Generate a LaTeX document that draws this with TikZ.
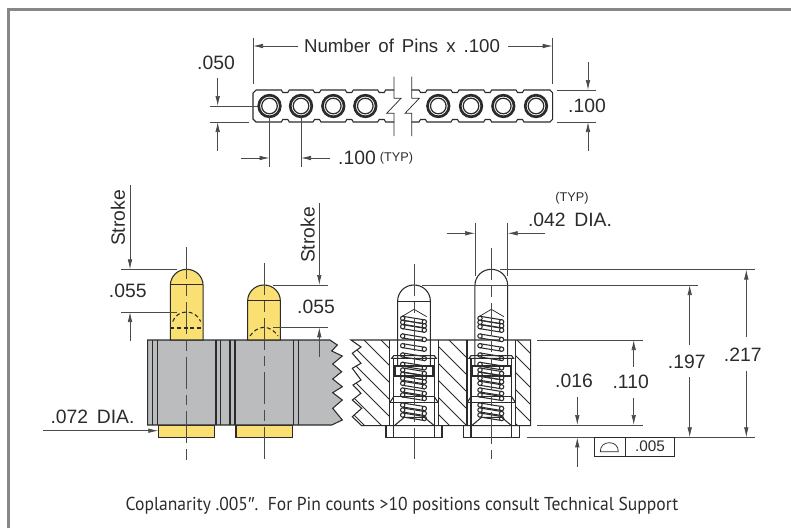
\documentclass[tikz,border=0pt]{standalone}
\usepackage{fontspec}
\setmainfont{Liberation Sans}
\newfontfamily\notefont[FakeStretch=0.94]{PT Sans}
\usepackage{xcolor}
\usepackage{tikz}
\usetikzlibrary{arrows.meta}
\definecolor{framec}{HTML}{878787}
\definecolor{inkc}{HTML}{2B2B2B}
\definecolor{linec}{HTML}{4A4A4A}
\definecolor{bodyc}{HTML}{BBBCBE}
\definecolor{goldc}{HTML}{FADF72}
\tikzset{
  outln/.style={draw=inkc,line width=.8pt},
  thinln/.style={draw=inkc,line width=.55pt},
  dimln/.style={draw=linec,line width=.55pt},
  dimarr/.style={dimln,-{Latex[length=7.5pt,width=3.4pt]}},
  centerln/.style={draw=linec,line width=.55pt,dash pattern=on 24pt off 4.5pt on 8pt off 4.5pt},
  hiddenln/.style={draw=inkc,line width=.8pt,dash pattern=on 3pt off 2pt},
  dimtxt/.style={text=inkc,inner sep=0pt,font=\fontsize{14.5}{15}\selectfont},
  smalltxt/.style={text=inkc,inner sep=0pt,font=\fontsize{9.5}{11}\selectfont}
}
\begin{document}
\begin{tikzpicture}[x=.75pt,y=-.75pt]
\useasboundingbox (0,0) rectangle (791,528);
\draw[framec,line width=2.25pt] (8.5,528) -- (8.5,9.5) -- (791,9.5);

\draw[outln] (394,90) \foreach \n in {381.7,349.3,317,285.3} { -- (\n+4,90) -- (\n+2.5,92.5) -- (\n-2.5,92.5) -- (\n-4,90)}
  -- (256,90) -- (253,93) -- (253,119) -- (256,122)
  \foreach \n in {285.3,317,349.3,381.7} { -- (\n-4,122) -- (\n-2.5,119.5) -- (\n+2.5,119.5) -- (\n+4,122)} -- (394,122);
\draw[outln] (411.7,90) \foreach \n in {423,455,487.7,520} { -- (\n-4,90) -- (\n-2.5,92.5) -- (\n+2.5,92.5) -- (\n+4,90)}
  -- (550,90) -- (552.7,93) -- (552.7,119) -- (550,122)
  \foreach \n in {520,487.7,455,423} { -- (\n+4,122) -- (\n+2.5,119.5) -- (\n-2.5,119.5) -- (\n-4,122)} -- (411.7,122);
\foreach \n in {269.5,301,333.3,365.3,438.3,471,503.3,536} {
  \draw[draw=inkc,line width=2pt] (\n,106) circle (10.8);
  \draw[draw=inkc,line width=.9pt] (\n,106) circle (7.8);
}
\draw[thinln] (394,76.7) -- (394,98.3) -- (401,98.3) -- (386.7,113.3) -- (394,113.3) -- (394,136);
\draw[thinln] (411.7,76.7) -- (411.7,98.3) -- (419.3,98.3) -- (405,113.3) -- (411.7,113.3) -- (411.7,136);

\draw[dimln] (253,38) -- (253,84);
\draw[dimln] (552.7,38) -- (552.7,84);
\draw[dimarr] (298,46) -- (253,46);
\draw[dimarr] (508,46) -- (552.7,46);
\node[dimtxt,font=\fontsize{14}{15}\selectfont] (pinslbl) at (402,46) {\spaceskip=6pt Number of Pins x .100};
\node[dimtxt] (pitchlbl) at (216,63) {.050};
\draw[dimln] (210,106) -- (258,106);
\draw[dimln] (210,122) -- (249,122);
\draw[dimarr] (217.7,78) -- (217.7,106);
\draw[dimarr] (217.7,151) -- (217.7,122);
\draw[dimln] (557,90) -- (596,90);
\draw[dimln] (557,122) -- (596,122);
\draw[dimarr] (588,62) -- (588,90);
\draw[dimarr] (588,151) -- (588,122);
\node[dimtxt] (widthlbl) at (587,106) {.100};
\draw[dimln] (269.5,117) -- (269.5,167);
\draw[dimln] (301,117) -- (301,167);
\draw[dimarr] (240.7,158) -- (269.5,158);
\draw[dimarr] (330,158) -- (301,158);
\node[dimtxt] (spacelbl) at (357,158.3) {.100};
\node[smalltxt] (spacetyp) at (396.5,158) {(TYP)};

\draw[outln,fill=goldc] (158.3,425) rectangle (214.7,437.3);
\draw[outln,fill=goldc] (236,425) rectangle (292.3,437.3);
\draw[outln,fill=bodyc] (330,340) -- (147.7,340) -- (147.7,425) -- (331.7,425) -- (342.3,420) -- (332.7,408.3) -- (342.3,400) -- (332.7,392.7) -- (342.3,386.7) -- (332.7,379) -- (341.7,371.7) -- (332.7,364) -- (342.3,356) -- (331.7,351) -- (337.3,345) -- cycle;
\foreach \n in {152.3,157.3,216,220.7,230,235,293.3,298.3} {
  \draw[outln] (\n,340) -- (\n,425);
}
\foreach \c/\t in {186.7/269.3,264/285} {
  \draw[outln,fill=goldc] (\c-16.35,340) -- (\c-16.35,\t+16) .. controls (\c-16.35,\t+7) and (\c-9,\t) .. (\c,\t) .. controls (\c+9,\t) and (\c+16.35,\t+7) .. (\c+16.35,\t+16) -- (\c+16.35,340) -- cycle;
  \draw[outln] (\c-16.35,\t+15.5) -- (\c+16.35,\t+15.5);
  \draw[centerln] (\c,\t-22) -- (\c,460);
}
\draw[hiddenln] (172.7,321.5) .. controls (175,315) and (181,312) .. (186.7,312) .. controls (192,312) and (198,315) .. (200.7,321.5);
\draw[hiddenln] (170.3,328) -- (203,328);
\draw[hiddenln] (250,336) .. controls (253,331) and (259,327.3) .. (264,327.3) .. controls (269,327.3) and (275,331) .. (278,336);

\node[dimtxt,rotate=90] (strokeA) at (118,218) {Stroke};
\draw[dimarr] (130,185) -- (130,269.3);
\draw[dimln] (121,269.3) -- (177,269.3);
\draw[dimln] (121,312) -- (177,312);
\draw[dimarr] (130,340.7) -- (130,312);
\node[dimtxt] (tipA) at (127.7,290.7) {.055};
\node[dimtxt,rotate=90] (strokeB) at (307.7,235) {Stroke};
\draw[dimarr] (319.3,203) -- (319.3,285);
\draw[dimln] (273,285) -- (328,285);
\draw[dimln] (273,327.3) -- (328,327.3);
\draw[dimarr] (319.3,356.7) -- (319.3,327.3);
\node[dimtxt] (tipB) at (316,306.7) {.055};
\node[dimtxt] (taillbl) at (92.5,416.7) {\spaceskip=6.5pt .072 DIA.};
\draw[dimarr] (43,430.7) -- (158.3,430.7);

\begin{scope}
  \clip (351,340) -- (361,347) -- (352.3,353.3) -- (361,363.3) -- (352.3,368.3) -- (361,380) -- (353,385) -- (361,393.3) -- (352.3,400) -- (361.7,408.3) -- (352.3,416.7) -- (361.7,425.7) -- (389.7,425.7) -- (389.7,340) -- cycle
    (438.3,340) rectangle (467,425.7) (516,340) rectangle (530.7,425.7);
  \foreach \h in {262,279,...,534} {
    \draw[thinln] (\h,340) -- (\h+85.7,425.7);
  }
\end{scope}
\draw[outln] (361.7,425.7) -- (352.3,416.7) -- (361.7,408.3) -- (352.3,400) -- (361,393.3) -- (353,385) -- (361,380) -- (352.3,368.3) -- (361,363.3) -- (352.3,353.3) -- (361,347) -- (351,340) -- (530.7,340) -- (530.7,425.7) -- cycle;

\foreach \c/\t in {414/285,491.3/269.3} {
  \draw[outln] (\c-16.35,366.7) -- (\c-16.35,\t+16) .. controls (\c-16.35,\t+7) and (\c-9,\t) .. (\c,\t) .. controls (\c+9,\t) and (\c+16.35,\t+7) .. (\c+16.35,\t+16) -- (\c+16.35,366.7);
  \draw[thinln] (\c-16.35,\t+16) -- (\c+16.35,\t+16);
  \draw[thinln] (\c-12.3,316.7) -- (\c,309.3) -- (\c+12.7,316.7);
  \foreach \k in {318.3,322.3,326.7,336,345.7,355,364.3,370,374.3,378.3,383.3,390,395,405,410,415} {
    \draw[outln] (\c-11.3,\k-2) -- (\c+10.3,\k+1.5);
    \draw[outln] (\c-11.3,\k+2) -- (\c+10.3,\k+5.5);
    \draw[outln,fill=white] (\c-11.3,\k) circle (2.2);
    \draw[outln,fill=white] (\c+10.3,\k+3.5) circle (2.2);
  }
  \draw[outln] (\c-24.3,340) -- (\c-24.3,425.7);
  \draw[outln] (\c+24.3,340) -- (\c+24.3,425.7);
  \draw[outln] (\c-22.3,358.3) -- (\c-20.3,355.7) -- (\c+20.3,355.7) -- (\c+22.3,358.3) -- cycle;
  \draw[outln] (\c-20.3,358.3) -- (\c-20.3,425.7);
  \draw[outln] (\c+20.3,358.3) -- (\c+20.3,425.7);
  \draw[draw=inkc,line width=1.2pt] (\c-19,366) rectangle (\c+19,376);
  \draw[outln] (\c-20.3,396.7) -- (\c+20.3,396.7);
  \draw[outln] (\c-24.3,402.7) -- (\c-20.3,396.7);
  \draw[outln] (\c+24.3,402.7) -- (\c+20.3,396.7);
  \draw[outln] (\c-24.3,402.7) -- (\c+24.3,402.7);
  \draw[outln] (\c-19.7,425.7) -- (\c-9.7,417.3) -- (\c+10.3,417.3) -- (\c+20.3,425.7);
  \draw[outln] (\c-28,425.7) rectangle (\c+28,437.7);
  \draw[outln] (\c-20.3,425.7) -- (\c-20.3,437.7);
  \draw[outln] (\c+20.3,425.7) -- (\c+20.3,437.7);
  \draw[centerln] (\c,\t-21) -- (\c,459.3);
}

\draw[dimln] (475,223) -- (475,276);
\draw[dimln] (507.7,223) -- (507.7,276);
\draw[dimarr] (446.7,233.3) -- (475,233.3);
\draw[dimarr] (545,233.3) -- (507.7,233.3);
\node[smalltxt] (diatyp) at (572,198) {(TYP)};
\node[dimtxt] (dialbl) at (570,220) {\spaceskip=6.5pt .042 DIA.};

\draw[dimln] (500,269.5) -- (755,269.5);
\draw[dimln] (422,285) -- (698.3,285);
\draw[dimln] (537.3,340) -- (642.7,340);
\draw[dimln] (537.3,425) -- (642.7,425);
\draw[dimln] (526.7,437.3) -- (755,437.3);
\draw[dimarr] (746.3,337) -- (746.3,269.5);
\draw[dimarr] (746.3,370.7) -- (746.3,437.3);
\node[dimtxt] (heightA) at (742.7,354.3) {.217};
\draw[dimarr] (689.7,345) -- (689.7,285);
\draw[dimarr] (689.7,377) -- (689.7,437.3);
\node[dimtxt] (heightB) at (686.7,361.7) {.197};
\draw[dimarr] (633.7,366.7) -- (633.7,340);
\draw[dimarr] (633.7,398) -- (633.7,425);
\node[dimtxt] (blocklbl) at (630.7,382.3) {.110};
\draw[dimarr] (577.3,396.7) -- (577.3,425);
\draw[dimarr] (577.3,466.7) -- (577.3,437.3);
\node[dimtxt] (taillen) at (574,380.7) {.016};

\draw[thinln] (594,437.3) rectangle (674,456);
\draw[thinln] (625,437.3) -- (625,456);
\draw[thinln] (600.3,451.7) .. controls (600.3,446) and (604,442.7) .. (609.3,442.7) .. controls (614.6,442.7) and (618.3,446) .. (618.3,451.7) -- cycle;
\node[text=inkc,inner sep=0pt,font=\fontsize{11.5}{12}\selectfont] (tollbl) at (650,446.7) {.005};

\node[text=inkc,inner sep=0pt,font=\notefont\fontsize{14}{15}\selectfont] (notelbl) at (402,506) {Coplanarity .005{\rmfamily ″}.\ \ For Pin counts >10 positions consult Technical Support};
\end{tikzpicture}
\end{document}
